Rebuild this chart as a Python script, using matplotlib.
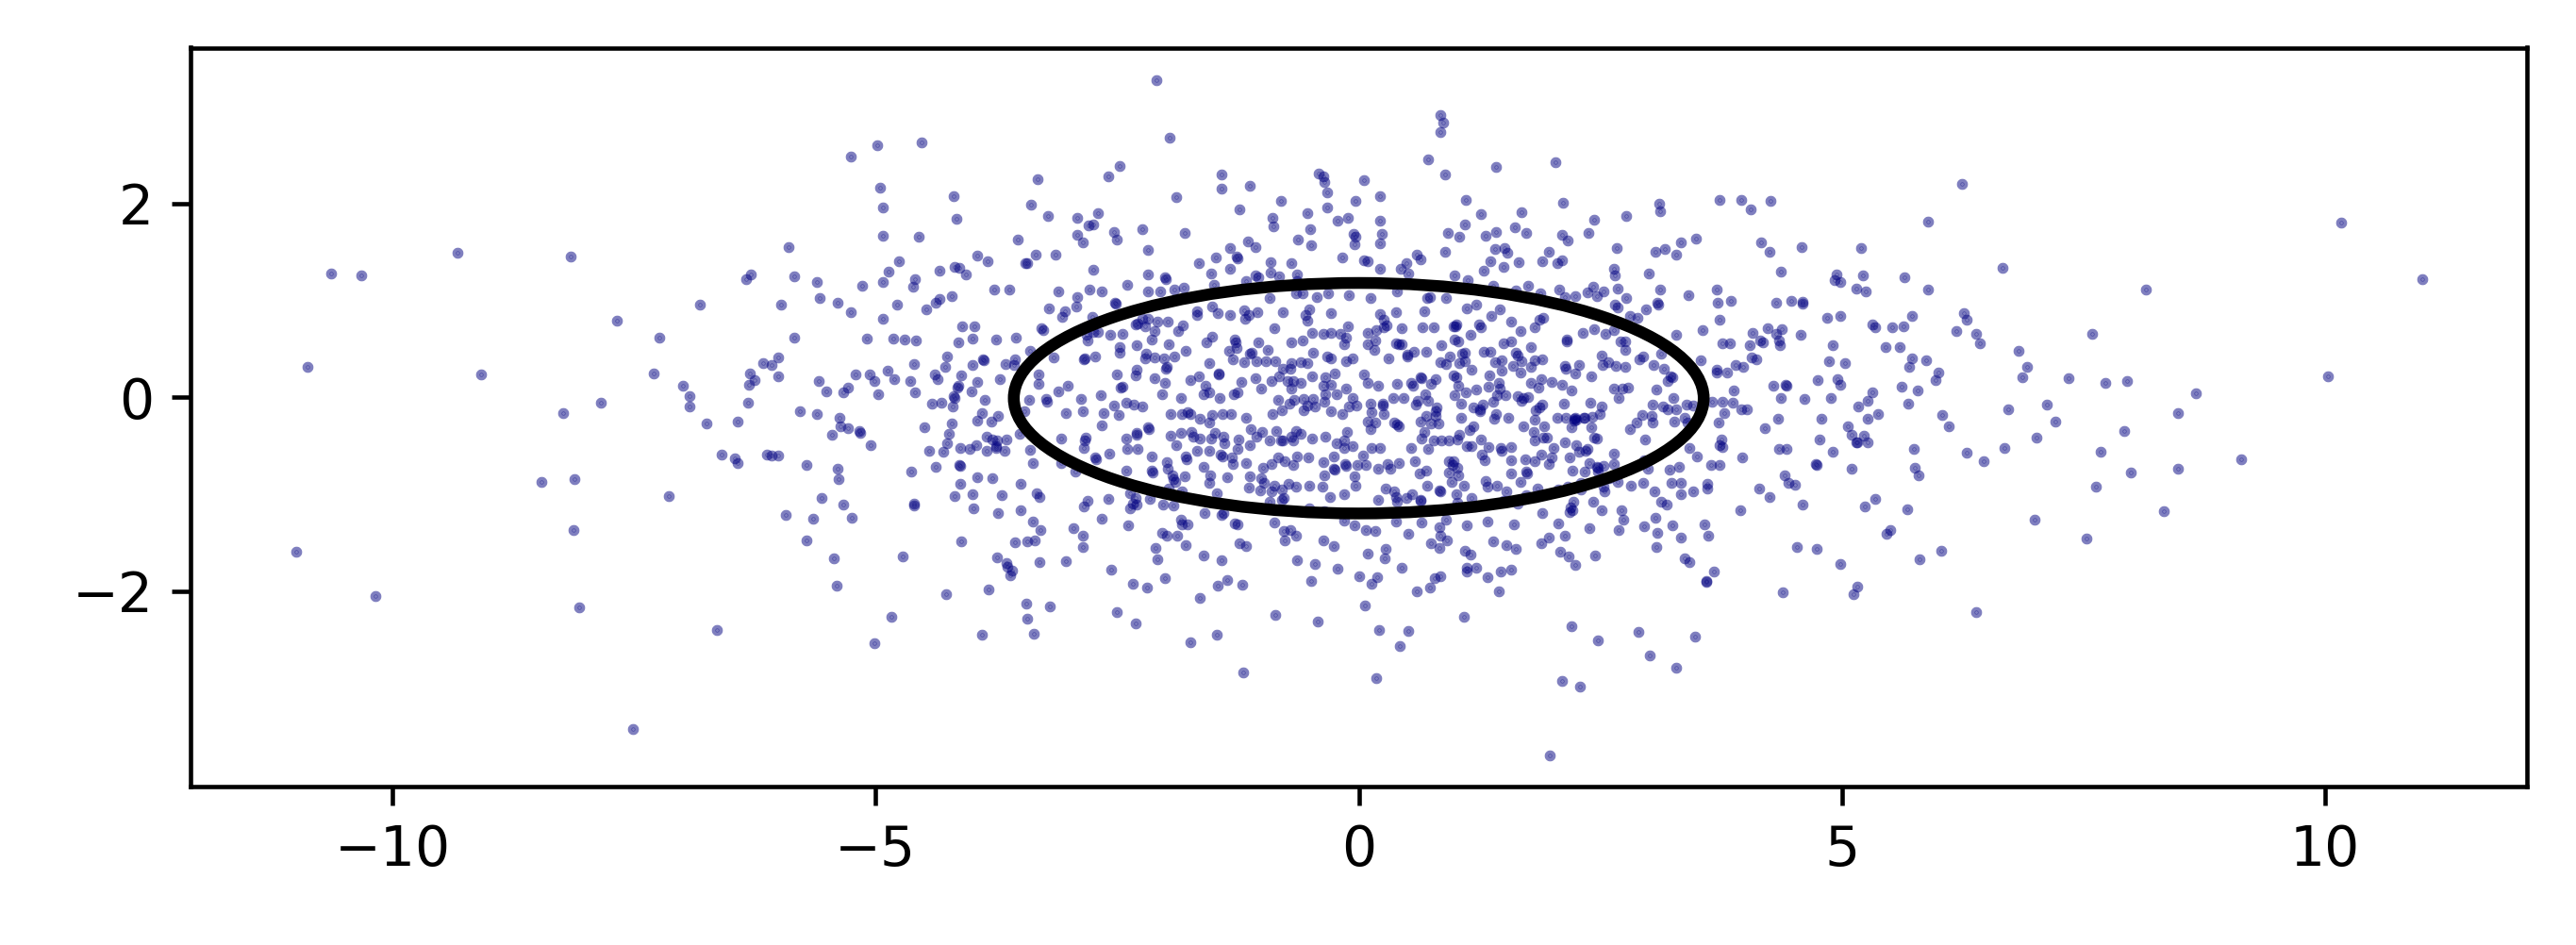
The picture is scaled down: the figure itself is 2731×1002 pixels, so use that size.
import matplotlib
matplotlib.use("Agg")
import matplotlib.pyplot as plt
from matplotlib.patches import Ellipse
import numpy as np

# ---- data (x, y) ----
pts_far_left = [(-10.64,1.28),(-10.32,1.26),(-9.33,1.49),(-8.16,1.45),(-6.29,1.27),(-6.34,1.22),
(-6.82,0.96),(-7.68,0.79),(-7.24,0.62),(-10.88,0.31),(-9.08,0.24),(-7.30,0.25),(-6.99,0.12),(-6.93,0.01),
(-6.93,-0.10),(-7.84,-0.06),(-8.23,-0.16),(-6.75,-0.27),(-6.43,-0.25),(-6.32,-0.06),(-6.31,0.13),(-6.30,0.25),
(-6.25,0.18),(-6.16,0.35),(-6.08,0.33),(-6.59,-0.59),(-6.46,-0.63),(-6.43,-0.68),(-6.13,-0.59),(-6.08,-0.60),
(-8.46,-0.87),(-8.12,-0.85),(-7.14,-1.02),(-8.13,-1.37),(-11.00,-1.60),(-10.18,-2.05),(-8.07,-2.17),
(-6.64,-2.40),(-7.51,-3.43)]

pts_far_right = [(6.24,2.20),(6.66,1.34),(8.15,1.11),(10.17,1.80),(11.01,1.22),
(6.26,0.87),(6.29,0.80),(6.18,0.68),(6.39,0.65),(6.43,0.56),(7.59,0.65),(6.83,0.48),(6.92,0.31),(6.87,0.21),
(7.35,0.20),(7.73,0.15),(7.95,0.17),(8.66,0.04),(10.03,0.22),(6.72,-0.12),(7.12,-0.08),(7.21,-0.25),
(6.11,-0.30),(8.48,-0.16),(7.92,-0.35),(7.01,-0.42),(6.68,-0.52),(6.29,-0.57),(6.47,-0.66),(7.68,-0.56),
(9.13,-0.64),(8.48,-0.74),(7.99,-0.78),(7.63,-0.92),(8.33,-1.18),(6.99,-1.26),(7.53,-1.46),(6.39,-2.22)]

pts_top_left = [(-5.90,1.55),(-5.84,1.25),(-5.61,1.19),(-5.26,2.49),(-4.98,2.60),(-4.52,2.63),(-4.95,2.16),
(-4.92,1.96),(-4.92,1.67),(-4.55,1.66),(-4.76,1.40),(-4.87,1.30),(-4.92,1.19),(-5.14,1.15),(-4.59,1.22),
(-4.61,1.14),(-4.34,1.31),(-4.19,2.08),(-4.16,1.84),(-4.18,1.35),(-4.13,1.34),(-4.07,1.27),(-3.95,1.46),
(-3.84,1.40),(-3.77,1.11),(-3.62,1.11),(-3.53,1.63),(-3.45,1.38),(-3.43,1.38),(-3.34,1.47),(-3.14,1.47),
(-3.32,2.25),(-3.39,1.99),(-3.22,1.87),(-2.91,1.85),(-2.91,1.68),(-2.86,1.60),(-2.80,1.77),(-2.75,1.78),
(-2.70,1.90),(-2.59,2.28),(-2.47,2.39),(-2.53,1.71),(-2.50,1.63),(-2.75,1.32),(-3.11,1.09),(-2.79,1.11),
(-2.66,1.09),(-2.40,1.16),(-2.24,1.74),(-2.18,1.52),(-2.18,1.27),(-2.18,1.09),(-2.05,1.09),(-2.01,1.24),
(-2.00,1.22),(-2.09,3.27),(-1.96,2.68),(-1.89,2.07),(-1.80,1.70),(-1.91,1.11),(-1.81,1.13),(-1.65,1.38),
(-1.53,1.28),(-1.48,1.44),(-1.50,1.16),(-1.42,2.30),(-1.42,2.15),(-1.33,1.54),(-1.26,1.45),(-1.25,1.43),
(-1.33,1.33),(-1.23,1.94),(-1.13,2.18),(-1.15,1.61),(-1.07,1.55),(-1.17,1.20),(-1.07,1.26),(-1.04,1.24),
(-0.91,1.39),(-0.91,1.29),(-0.82,1.25),(-0.81,2.03),(-0.89,1.85),(-0.88,1.76),(-0.70,1.38),(-0.64,1.27),
(-0.63,1.63),(-0.53,1.90),(-0.50,1.74),(-0.49,1.57),(-0.41,2.31),(-0.37,2.28),(-0.36,2.22),(-0.33,2.12),
(-0.33,1.96),(-0.22,1.82),(-0.11,1.85),(-0.17,1.44),(-0.05,1.69),(-0.03,1.66),(-0.04,1.58),(-0.03,2.03),
(-0.64,1.20)]

pts_top_right = [(0.84,2.91),(0.87,2.84),(0.84,2.74),(0.72,2.46),(0.89,2.30),(1.42,2.38),(2.04,2.43),
(0.05,2.24),(0.22,2.08),(0.22,1.82),(0.24,1.69),(0.22,1.59),(0.05,1.41),(0.09,1.40),(0.22,1.33),(0.43,1.33),
(0.49,1.38),(0.51,1.28),(0.60,1.47),(0.64,1.42),(0.89,1.50),(0.92,1.70),(1.04,1.66),(1.10,1.78),(1.11,2.04),
(1.26,1.89),(1.31,1.67),(1.42,1.71),(1.41,1.53),(1.51,1.54),(1.54,1.49),(1.36,1.40),(1.29,1.31),(1.50,1.35),
(1.65,1.39),(1.62,1.75),(1.73,1.70),(1.68,1.91),(0.99,1.26),(1.13,1.21),(1.39,1.15),(1.75,1.15),(1.63,1.10),
(0.40,1.09),(1.90,1.40),(1.97,1.50),(2.05,1.38),(2.10,1.41),(2.10,1.68),(2.16,1.62),(2.11,2.01),(2.38,1.70),
(2.44,1.83),(2.77,1.87),(2.67,1.54),(2.64,1.33),(2.65,1.26),(2.43,1.14),(2.68,1.12),(2.53,1.09),(2.37,1.08),
(2.07,1.11),(3.00,1.28),(3.07,1.50),(3.17,1.53),(3.28,1.47),(3.33,1.60),(3.49,1.64),(3.11,2.00),(3.12,1.92),
(3.12,1.11),(3.70,1.11),(3.73,2.04),(3.96,2.04),(4.06,1.94),(4.26,2.03),(4.16,1.60),(4.25,1.50),(4.37,1.30),
(4.58,1.55),(4.94,1.27),(4.92,1.21),(4.98,1.19),(5.20,1.54),(5.22,1.26),(5.15,1.12),(5.25,1.09),(5.65,1.24),
(5.89,1.11),(5.89,1.81)]

pts_bottom_left = [(-5.72,-1.48),(-4.11,-1.49),(-3.56,-1.50),(-3.43,-1.49),(-3.35,-1.48),(-2.86,-1.55),
(-5.43,-1.66),(-4.72,-1.64),(-5.40,-1.95),(-4.84,-2.27),(-5.01,-2.54),(-4.27,-2.03),(-3.83,-1.98),
(-3.90,-2.45),(-3.74,-1.65),(-3.65,-1.71),(-3.64,-1.75),(-3.59,-1.79),(-3.61,-1.84),(-3.30,-1.70),
(-3.03,-1.69),(-3.44,-2.13),(-3.20,-2.16),(-3.43,-2.29),(-3.36,-2.44),(-2.56,-1.78),(-2.50,-2.22),
(-2.34,-1.93),(-2.19,-1.97),(-2.31,-2.34),(-2.10,-1.56),(-2.08,-1.67),(-2.01,-1.87),(-1.79,-1.53),
(-1.61,-1.63),(-1.42,-1.68),(-1.64,-2.07),(-1.46,-1.95),(-1.36,-1.89),(-1.21,-1.94),(-1.74,-2.53),
(-1.47,-2.45),(-1.20,-2.84),(-1.23,-1.51),(-1.17,-1.54),(-0.77,-1.48),(-0.86,-2.25),(-0.64,-1.68),
(-0.45,-1.72),(-0.49,-1.90),(-0.42,-2.32),(-0.37,-1.48),(-0.26,-1.54),(-0.22,-1.77),(0.00,-1.85)]

pts_bottom_right = [(0.75,-1.51),(0.83,-1.56),(0.09,-1.61),(0.28,-1.57),(0.27,-1.66),(0.44,-1.76),
(0.19,-1.86),(0.13,-1.93),(0.06,-2.15),(0.60,-2.00),(0.74,-1.97),(0.79,-1.87),(0.84,-1.85),(1.10,-1.59),
(1.16,-1.62),(1.12,-1.76),(1.12,-1.80),(1.22,-1.76),(1.33,-1.86),(1.47,-1.80),(1.58,-1.78),(1.45,-2.00),
(1.39,-1.49),(1.53,-1.53),(1.63,-1.57),(1.89,-1.51),(2.08,-1.60),(2.17,-1.64),(2.24,-1.73),(2.45,-1.63),
(1.09,-2.27),(0.21,-2.40),(0.51,-2.41),(0.42,-2.57),(0.18,-2.90),(2.20,-2.36),(2.47,-2.51),(2.10,-2.93),
(2.29,-2.99),(1.98,-3.70),(2.89,-2.42),(3.01,-2.67),(3.28,-2.79),(3.48,-2.47),(3.08,-1.55),(3.37,-1.66),
(3.42,-1.70),(3.68,-1.80),(3.60,-1.90),(3.60,-1.91),(4.39,-2.01),(4.53,-1.55),(4.74,-1.57),(4.98,-1.72),
(5.16,-1.96),(5.12,-2.03),(5.80,-1.67),(6.03,-1.59),(0.91,-1.48)]

pts_center_left = [
(-5.98,0.96),(-5.58,1.02),(-5.39,0.98),(-5.26,0.88),(-4.92,0.81),(-4.78,0.96),(-4.48,0.91),(-4.38,0.98),
(-4.34,1.01),(-4.21,1.04),(-3.21,0.92),(-3.07,0.83),(-3.04,0.89),(-2.92,0.94),(-2.91,1.03),(-2.76,0.83),
(-2.52,0.98),(-2.51,0.97),(-2.24,0.81),(-2.18,0.81),(-2.08,0.78),(-1.98,0.78),(-1.67,0.89),(-1.52,0.94),
(-1.46,0.87),(-1.33,0.85),(-1.18,0.81),(-1.14,0.85),(-1.19,0.90),(-1.05,0.88),(-0.92,1.02),(-0.79,0.88),
(-0.65,1.07),(-0.58,1.07),(-0.55,0.85),(-0.53,0.79),(-0.51,0.91),(-0.43,1.03),(-0.29,0.87),(-0.32,1.07),
(-0.10,1.05),
(-5.84,0.62),(-5.09,0.61),(-4.82,0.61),(-4.70,0.60),(-4.58,0.59),(-4.14,0.57),(-4.10,0.73),(-3.98,0.73),
(-4.00,0.61),(-3.75,0.60),(-3.55,0.62),(-3.28,0.71),(-3.27,0.69),(-2.81,0.59),(-2.82,0.64),(-2.75,0.67),
(-2.70,0.67),(-2.57,0.64),(-2.45,0.65),(-2.31,0.75),(-2.29,0.76),(-2.21,0.73),(-2.11,0.68),(-2.14,0.60),
(-1.97,0.55),(-1.87,0.68),(-1.82,0.74),(-1.67,0.85),(-1.58,0.57),(-1.52,0.63),(-1.28,0.60),(-1.27,0.57),
(-1.04,0.57),(-0.94,0.49),(-0.87,0.71),(-0.70,0.57),(-0.58,0.59),(-0.48,0.66),(-0.37,0.65),(-0.29,0.66),
(-0.19,0.65),(-0.11,0.73),(-0.13,0.62),(-0.15,0.55),
(-6.01,0.41),(-4.26,0.42),(-4.28,0.31),(-4.60,0.34),(-4.00,0.33),(-3.89,0.39),(-3.88,0.38),(-3.66,0.34),
(-3.57,0.33),(-3.56,0.39),(-3.40,0.48),(-3.16,0.41),(-2.85,0.39),(-2.84,0.40),(-2.73,0.42),(-2.47,0.52),
(-2.47,0.46),(-2.30,0.54),(-2.21,0.40),(-2.20,0.45),(-2.11,0.41),(-2.02,0.40),(-1.99,0.31),(-2.00,0.29),
(-1.91,0.42),(-1.79,0.48),(-1.55,0.35),(-1.45,0.25),(-1.34,0.48),(-1.30,0.39),(-1.26,0.51),(-1.19,0.36),
(-1.13,0.45),(-1.11,0.46),(-1.06,0.37),(-0.96,0.37),(-0.86,0.37),(-0.79,0.29),(-0.70,0.35),(-0.71,0.29),
(-0.60,0.36),(-0.53,0.35),(-0.47,0.46),(-0.33,0.42),(-0.29,0.40),(-0.13,0.37),(-0.06,0.40),(-0.25,0.25),
(-0.35,0.21),
(-6.01,0.22),(-5.59,0.17),(-5.51,0.06),(-5.33,0.05),(-5.29,0.10),(-5.21,0.24),(-5.06,0.24),(-5.01,0.17),
(-4.97,0.03),(-4.88,0.27),(-4.81,0.19),(-4.64,0.17),(-4.59,0.05),(-4.39,0.24),(-4.36,0.19),(-4.19,0.01),
(-4.15,0.10),(-4.14,0.12),(-4.11,0.23),(-4.01,0.06),(-3.95,0.16),(-3.71,0.19),(-3.31,0.24),(-3.31,0.14),
(-3.01,0.12),(-3.11,0.06),(-2.50,0.24),(-2.45,0.11),(-2.46,0.10),(-2.31,0.23),(-2.30,0.28),(-2.11,0.20),
(-2.01,0.15),(-2.04,0.03),(-1.74,0.18),(-1.65,0.22),(-1.59,0.12),(-1.61,0.03),(-1.55,0.05),(-1.44,-0.01),
(-1.45,0.24),(-1.29,0.03),(-1.25,0.05),(-1.22,0.16),(-1.07,0.20),(-1.01,0.09),(-0.90,0.17),(-0.82,0.22),
(-0.74,0.17),(-0.68,0.17),(-0.70,0.09),(-0.60,0.15),(-0.48,0.22),(-0.37,0.12),(-0.29,0.13),(-0.35,0.03),
(-0.23,0.03),(-0.13,0.09),(-0.06,-0.01),
(-5.78,-0.14),(-5.61,-0.17),(-5.37,-0.21),(-5.36,-0.30),(-5.29,-0.32),(-5.17,-0.35),(-5.16,-0.37),
(-4.42,-0.07),(-4.32,-0.06),(-4.20,-0.10),(-4.18,-0.01),(-3.90,-0.16),(-3.95,-0.24),(-3.87,-0.03),
(-3.80,-0.25),(-3.73,-0.19),(-3.46,-0.14),(-3.41,-0.03),(-3.24,-0.02),(-3.23,-0.05),(-2.87,-0.02),
(-2.86,-0.14),(-3.03,-0.16),(-2.67,0.02),(-2.64,-0.16),(-2.53,-0.09),(-2.48,-0.18),(-2.41,-0.06),
(-2.33,-0.08),(-2.24,-0.10),(-2.18,-0.31),(-1.84,-0.01),(-1.95,-0.17),(-1.83,-0.17),(-1.74,-0.17),
(-1.77,-0.15),(-1.64,-0.22),(-1.55,-0.26),(-1.52,-0.18),(-1.41,-0.17),(-1.32,-0.17),(-1.17,-0.21),
(-0.89,-0.17),(-0.80,-0.13),(-0.83,-0.03),(-0.72,-0.07),(-0.67,-0.03),(-0.57,-0.02),(-0.53,-0.09),
(-0.47,-0.02),(-0.57,-0.13),(-0.45,-0.10),(-0.29,-0.14),(-0.36,-0.05),(-0.17,-0.17),(-0.10,-0.10),
(-0.02,-0.09),
(-5.45,-0.39),(-5.05,-0.49),(-4.50,-0.31),(-4.24,-0.38),(-4.21,-0.27),(-4.26,-0.48),(-4.12,-0.52),
(-4.03,-0.53),(-3.96,-0.49),(-3.85,-0.41),(-3.79,-0.44),(-3.75,-0.50),(-3.74,-0.45),(-3.65,-0.44),
(-3.51,-0.38),(-3.08,-0.43),(-2.83,-0.42),(-2.84,-0.45),(-2.85,-0.52),(-2.66,-0.29),(-2.41,-0.43),
(-2.30,-0.39),(-2.30,-0.37),(-2.40,-0.53),(-2.29,-0.53),(-2.17,-0.33),(-1.95,-0.40),(-1.84,-0.37),
(-1.73,-0.36),(-1.71,-0.41),(-1.64,-0.43),(-1.49,-0.37),(-1.53,-0.43),(-1.40,-0.41),(-1.39,-0.48),
(-1.67,-0.55),(-1.55,-0.55),(-1.89,-0.49),(-1.24,-0.44),(-1.12,-0.33),(-1.06,-0.41),(-1.13,-0.49),
(-1.00,-0.36),(-0.92,-0.45),(-0.85,-0.35),(-0.79,-0.45),(-0.68,-0.45),(-0.65,-0.35),(-0.60,-0.38),
(-0.70,-0.41),(-0.81,-0.45),(-0.48,-0.43),(-0.35,-0.41),(-0.23,-0.48),(-0.15,-0.45),(-0.12,-0.36),
(-0.15,-0.52),(-0.06,-0.50),(-6.01,-0.60),
(-4.45,-0.55),(-4.30,-0.56),(-4.38,-0.72),(-4.13,-0.70),(-4.12,-0.71),(-4.63,-0.77),(-3.85,-0.55),
(-3.75,-0.52),(-3.67,-0.55),(-3.40,-0.54),(-3.37,-0.68),(-3.08,-0.68),(-2.73,-0.62),(-2.72,-0.64),
(-2.58,-0.58),(-2.14,-0.61),(-1.99,-0.67),(-1.79,-0.61),(-1.78,-0.64),(-1.61,-0.72),(-1.43,-0.59),
(-1.41,-0.61),(-1.31,-0.62),(-1.25,-0.53),(-1.30,-0.69),(-1.17,-0.68),(-0.99,-0.73),(-0.83,-0.62),
(-0.90,-0.69),(-0.77,-0.66),(-0.68,-0.70),(-0.64,-0.61),(-0.52,-0.62),(-0.37,-0.67),(-0.26,-0.61),
(-0.14,-0.69),(-0.13,-0.71),(-0.26,-0.74),(-0.25,-0.75),(-0.01,-0.70),
(-5.72,-0.70),(-5.39,-0.74),(-5.38,-0.85),(-4.12,-0.89),(-3.95,-0.83),(-3.79,-0.84),(-3.50,-0.89),
(-3.33,-0.99),(-3.30,-1.03),(-4.00,-1.00),(-4.18,-1.02),(-3.69,-1.01),(-2.93,-0.77),(-2.41,-0.76),
(-2.14,-0.76),(-2.13,-0.78),(-1.98,-0.74),(-1.93,-0.81),(-1.92,-0.85),(-1.90,-0.87),(-1.80,-0.82),
(-1.54,-0.81),(-1.55,-0.88),(-1.36,-0.83),(-1.14,-0.93),(-1.13,-0.82),(-1.01,-0.84),(-0.98,-0.88),
(-1.02,-0.96),(-0.87,-0.91),(-0.90,-0.97),(-0.80,-0.95),(-0.73,-0.89),(-0.78,-1.04),(-0.65,-0.92),
(-0.51,-0.91),(-0.36,-0.81),(-0.38,-0.92),(-0.30,-1.03),(-0.15,-1.00),(-0.03,-0.91),(-0.04,-0.82),
(-1.47,-0.99),(-1.83,-0.97),(-1.97,-0.94),(-2.37,-0.99),(-2.31,-1.04),(-2.16,-1.05),(-2.81,-1.07),
(-2.59,-1.05),(-2.85,-1.13),
(-5.56,-1.04),(-5.33,-1.11),(-5.25,-1.24),(-5.65,-1.25),(-5.93,-1.22),(-4.60,-1.10),(-4.60,-1.12),
(-3.99,-1.15),(-3.73,-1.20),(-3.50,-1.17),(-3.37,-1.28),(-2.37,-1.15),(-2.34,-1.10),(-2.30,-1.11),
(-2.03,-1.11),(-1.92,-1.12),(-1.84,-1.26),(-1.77,-1.31),(-1.60,-1.20),(-1.40,-1.20),(-1.42,-1.22),
(-1.28,-1.30),(-1.25,-1.31),(-0.92,-1.08),(-0.80,-1.06),(-0.51,-1.15),(-0.36,-1.18),(-0.15,-1.27),
(-0.04,-1.32),(-2.66,-1.25),(-2.95,-1.35),
(-3.29,-1.37),(-2.86,-1.43),(-2.04,-1.40),(-1.99,-1.43),(-1.88,-1.43),(-0.87,-1.29),(-0.78,-1.38),
(-0.71,-1.37),(-0.65,-1.43),(-2.39,-1.32),(-1.83,-1.31)]

pts_center_right = [
(0.12,1.02),(0.71,1.02),(0.74,1.03),(0.90,1.02),(0.39,0.88),(0.22,0.86),(0.68,0.89),(1.12,0.92),
(1.22,0.96),(1.37,0.84),(1.46,0.91),(1.88,1.07),(2.13,1.03),(2.24,1.04),(2.46,1.04),(2.65,0.96),
(2.68,0.93),(2.77,1.02),(2.81,0.84),(2.88,0.82),(2.97,0.91),(3.09,0.98),(3.10,0.96),(3.41,1.05),
(3.71,0.98),(3.85,1.00),(4.32,0.98),(4.48,1.00),(4.59,0.99),(4.59,0.97),(4.85,0.82),(4.98,0.84),
(5.73,0.84),(5.32,0.75),(5.34,0.72),(5.52,0.72),(5.64,0.73),(3.73,0.80),(1.87,0.80),(1.91,0.82),
(1.82,0.72),
(0.09,0.66),(0.18,0.69),(0.26,0.72),(0.29,0.74),(0.44,0.71),(0.09,0.55),(0.17,0.59),(0.26,0.80),
(0.39,0.56),(0.41,0.55),(0.44,0.55),(0.66,0.72),(0.78,0.72),(0.98,0.73),(1.01,0.75),(1.00,0.73),
(1.24,0.75),(1.26,0.72),(1.16,0.64),(1.03,0.58),(0.85,0.54),(0.99,0.60),(1.58,0.78),(1.50,0.56),
(1.58,0.58),(1.67,0.68),(1.78,0.52),(2.15,0.60),(2.15,0.58),(2.32,0.66),(2.44,0.70),(2.55,0.65),
(2.64,0.69),(2.71,0.58),(2.76,0.58),(2.76,0.49),(3.28,0.64),(3.56,0.69),(3.76,0.56),(3.84,0.56),
(4.05,0.54),(4.08,0.66),(4.15,0.59),(4.18,0.57),(4.23,0.71),(4.32,0.65),(4.36,0.54),(4.38,0.70),
(4.35,0.59),(4.57,0.64),(4.91,0.54),(5.45,0.52),(5.60,0.52),
(0.16,0.49),(0.31,0.40),(0.50,0.42),(0.50,0.44),(0.57,0.47),(0.70,0.47),(0.84,0.36),(0.90,0.34),
(0.94,0.42),(1.07,0.45),(1.10,0.46),(1.04,0.35),(1.10,0.37),(1.17,0.28),(1.29,0.47),(1.36,0.47),
(1.41,0.36),(1.48,0.38),(1.60,0.32),(1.63,0.46),(1.64,0.43),(1.68,0.37),(1.78,0.31),(1.82,0.38),
(1.90,0.39),(2.13,0.32),(2.14,0.29),(2.24,0.25),(2.28,0.33),(2.51,0.43),(2.52,0.33),(2.58,0.36),
(2.66,0.32),(2.76,0.31),(2.90,0.39),(2.94,0.42),(3.05,0.33),(3.13,0.45),(3.16,0.29),(3.23,0.22),
(3.25,0.21),(3.54,0.38),(3.70,0.28),(3.70,0.26),(3.81,0.26),(3.90,0.33),(3.98,0.31),(4.07,0.41),
(4.11,0.39),(4.87,0.37),(5.03,0.35),(5.70,0.31),(5.73,0.40),(5.87,0.38),(6.00,0.26),
(0.05,0.24),(0.09,0.15),(0.20,0.12),(0.40,0.14),(0.54,0.15),(0.56,0.12),(0.64,0.21),(0.65,0.20),
(0.75,0.14),(0.80,0.19),(0.98,0.23),(1.01,0.21),(1.03,0.12),(0.99,0.02),(1.11,0.05),(1.22,0.08),
(1.34,0.11),(1.35,0.23),(1.48,0.27),(1.45,0.15),(1.46,0.09),(1.67,0.26),(1.78,0.15),(1.86,0.10),
(1.89,0.19),(2.00,0.16),(2.10,0.13),(2.20,0.07),(2.41,0.22),(2.64,0.09),(2.79,0.10),(2.73,0.09),
(2.69,-0.01),(3.08,0.08),(3.20,0.17),(3.88,0.07),(4.29,0.12),(4.42,0.13),(4.43,0.12),(4.37,-0.01),
(4.61,-0.02),(4.75,0.18),(4.95,0.19),(4.98,0.13),(4.89,-0.01),(5.32,0.05),(5.27,-0.04),(5.62,0.11),
(5.78,0.07),(5.97,0.18),
(0.12,-0.07),(0.25,-0.07),(0.25,-0.09),(0.36,-0.01),(0.46,-0.01),(0.61,-0.04),(0.59,-0.08),(0.69,0.03),
(0.72,-0.04),(0.81,-0.11),(0.80,-0.14),(1.06,-0.07),(1.19,-0.11),(1.25,-0.12),(1.28,-0.08),(1.39,-0.05),
(1.43,0.02),(1.52,0.02),(1.64,0.01),(1.68,-0.04),(1.70,-0.01),(1.75,0.00),(1.87,-0.11),(1.90,-0.08),
(1.83,-0.13),(2.12,-0.07),(2.40,-0.06),(2.51,-0.10),(2.42,-0.20),(2.49,-0.17),(2.33,-0.21),(2.24,-0.21),
(2.23,-0.24),(2.23,-0.22),(2.05,-0.21),(2.14,-0.21),(1.82,-0.23),(1.55,-0.21),(1.40,-0.22),(1.42,-0.17),
(1.25,-0.14),(1.06,-0.21),(0.70,-0.19),(0.80,-0.19),(0.13,-0.15),(0.26,-0.17),(0.17,-0.26),(0.09,-0.25),
(3.26,-0.01),(3.04,-0.08),(3.15,-0.10),(3.20,-0.12),(3.28,-0.12),(3.39,-0.08),(3.46,-0.09),(3.66,-0.05),
(3.76,-0.05),(3.87,-0.06),(3.96,-0.12),(4.02,-0.12),(3.78,-0.16),(3.72,-0.26),(3.03,-0.19),(2.93,-0.18),
(2.87,-0.26),(4.34,-0.22),(4.79,-0.22),(5.17,-0.10),(5.37,-0.17),(5.27,-0.22),(5.69,-0.07),(6.04,-0.18),
(0.12,-0.33),(0.40,-0.28),(0.37,-0.26),(0.41,-0.30),(0.64,-0.25),(0.68,-0.36),(0.75,-0.27),(0.82,-0.27),
(0.78,-0.45),(0.65,-0.43),(0.54,-0.52),(0.72,-0.53),(0.85,-0.45),(0.93,-0.45),(1.04,-0.39),(1.02,-0.44),
(1.15,-0.34),(1.19,-0.30),(1.26,-0.44),(1.17,-0.50),(1.12,-0.50),(1.34,-0.51),(1.47,-0.52),(1.48,-0.55),
(1.58,-0.51),(1.70,-0.30),(1.81,-0.36),(1.92,-0.30),(1.82,-0.45),(1.91,-0.42),(1.95,-0.42),(2.02,-0.52),
(2.20,-0.31),(2.25,-0.23),(2.34,-0.21),(2.41,-0.31),(2.46,-0.43),(2.44,-0.42),(2.25,-0.49),(2.13,-0.47),
(2.37,-0.53),(2.35,-0.55),(2.81,-0.33),(2.96,-0.44),(3.04,-0.26),(3.27,-0.25),(3.37,-0.21),(3.40,-0.26),
(3.75,-0.44),(3.73,-0.49),(3.76,-0.51),(3.97,-0.62),(4.20,-0.32),(4.77,-0.44),(4.91,-0.56),(5.06,-0.30),
(5.10,-0.39),(5.16,-0.47),(5.15,-0.47),(5.23,-0.40),(5.27,-0.47),(4.35,-0.53),(4.43,-0.53),(5.74,-0.53),
(0.04,-0.60),(0.13,-0.52),(0.22,-0.52),(0.07,-0.70),(0.20,-0.74),(0.30,-0.69),(0.33,-0.74),(0.41,-0.68),
(0.58,-0.66),(0.63,-0.79),(0.70,-0.76),(0.93,-0.66),(0.98,-0.66),(0.97,-0.70),(1.02,-0.73),(1.03,-0.81),
(0.93,-0.78),(1.30,-0.65),(1.27,-0.59),(1.58,-0.65),(1.72,-0.64),(1.89,-0.59),(2.00,-0.62),(2.18,-0.62),
(2.28,-0.56),(2.39,-0.68),(2.46,-0.72),(2.47,-0.73),(2.53,-0.71),(2.47,-0.77),(2.34,-0.77),(2.21,-0.76),
(1.97,-0.69),(1.82,-0.66),(1.58,-0.79),(1.73,-0.77),(1.74,-0.79),(2.64,-0.58),(2.64,-0.69),(2.95,-0.65),
(2.99,-0.74),(3.22,-0.75),(3.31,-0.72),(3.42,-0.52),(3.50,-0.61),(3.65,-0.70),(3.73,-0.70),(4.41,-0.81),
(4.73,-0.69),(4.74,-0.70),(5.10,-0.74),(5.75,-0.73),(5.79,-0.81),(4.45,-0.88),(4.51,-0.90),
(0.28,-0.94),(0.37,-0.97),(0.39,-1.03),(0.55,-1.00),(0.64,-1.06),(0.71,-0.91),(0.83,-0.96),(0.84,-0.97),
(0.96,-0.87),(1.09,-0.91),(1.01,-1.00),(1.31,-0.86),(1.33,-0.92),(1.43,-0.91),(1.53,-0.97),(1.67,-0.87),
(1.85,-0.94),(1.73,-1.01),(2.06,-0.95),(2.16,-0.92),(2.30,-0.95),(2.30,-0.88),(2.54,-0.97),(2.53,-0.92),
(2.59,-0.84),(2.68,-0.87),(2.82,-0.91),(2.94,-0.88),(3.06,-0.97),(3.24,-0.88),(3.33,-0.88),(3.33,-1.00),
(3.46,-0.97),(3.61,-0.89),(3.61,-0.94),(3.13,-1.08),(3.19,-1.11),
(0.20,-1.06),(0.40,-1.08),(0.49,-1.04),(0.64,-1.07),(1.02,-1.09),(1.17,-1.04),(1.50,-1.07),(1.64,-1.10),
(1.71,-1.05),(2.22,-1.08),(2.19,-1.14),(2.18,-1.19),(2.43,-1.08),(2.51,-1.17),(2.21,-1.17),(2.72,-1.17),
(3.95,-1.17),(4.14,-0.94),(4.25,-1.03),(4.59,-1.11),(5.24,-1.13),(5.34,-1.05),(5.68,-1.16),
(0.07,-1.37),(0.17,-1.38),(0.39,-1.28),(0.51,-1.41),(0.65,-1.29),(0.83,-1.34),(0.90,-1.26),(0.84,-1.43),
(1.12,-1.32),(1.33,-1.28),(1.61,-1.31),(1.90,-1.20),(2.06,-1.30),(2.13,-1.43),(1.97,-1.45),(2.39,-1.35),
(2.69,-1.37),(2.74,-1.26),(2.95,-1.33),(3.09,-1.40),(3.07,-1.24),(3.25,-1.32),(3.33,-1.45),(3.58,-1.31),
(3.62,-1.43),(5.46,-1.41),(5.50,-1.37)]

# confidence ellipse
ellipse_center = (0.0, -0.01)
ellipse_half_width = 3.57
ellipse_half_height = 1.19

x_limits = (-12.09, 12.09)
y_limits = (-4.02, 3.61)
x_ticks = [-10, -5, 0, 5, 10]
y_ticks = [-2, 0, 2]

all_pts = np.array(pts_far_left + pts_far_right + pts_top_left + pts_top_right +
                   pts_bottom_left + pts_bottom_right + pts_center_left + pts_center_right)
xs, ys = all_pts[:, 0], all_pts[:, 1]

W, H, DPI = 2731, 1002, 300
fig = plt.figure(figsize=(W / DPI, H / DPI), dpi=DPI)
ax = fig.add_axes([202 / W, 1 - 834 / H, (2679 - 202) / W, (834 - 50.5) / H])

ax.scatter(xs, ys, s=1, c='navy', alpha=0.5, linewidths=1.8)
ell = Ellipse(ellipse_center, width=2 * ellipse_half_width, height=2 * ellipse_half_height,
              facecolor='none', edgecolor='black', linewidth=3.0, zorder=3)
ax.add_patch(ell)

ax.set_xlim(*x_limits)
ax.set_ylim(*y_limits)
ax.set_xticks(x_ticks)
ax.set_yticks(y_ticks)
for s in ax.spines.values():
    s.set_linewidth(1.1)
ax.tick_params(labelsize=14, length=4.9, width=1.1, pad=4.5)

fig.savefig("out.png", dpi=DPI)
